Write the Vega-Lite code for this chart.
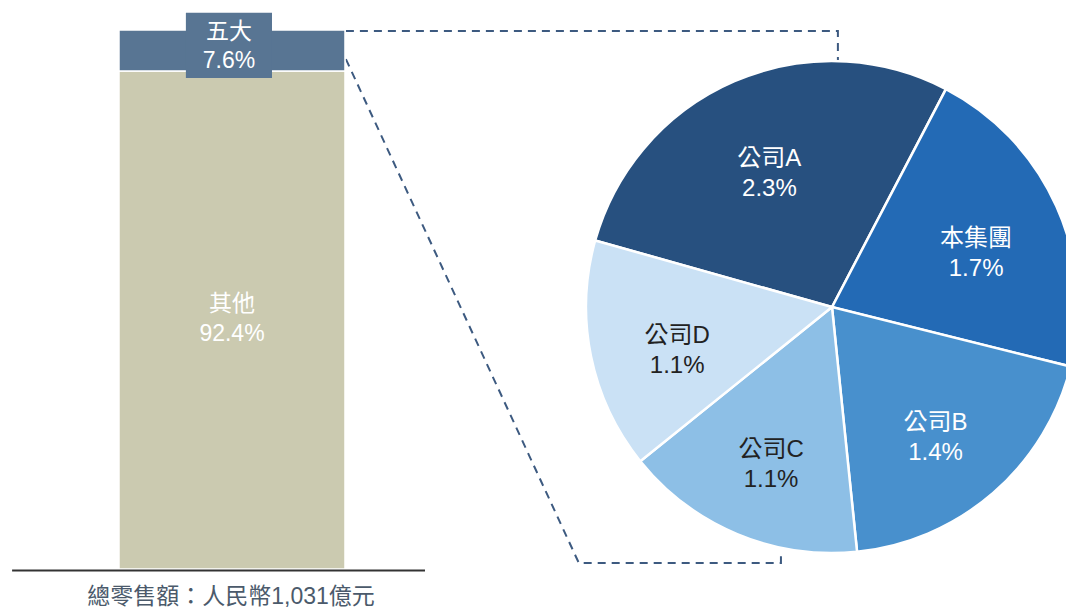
{
  "$schema": "https://vega.github.io/schema/vega-lite/v6.json",
  "width": 1066,
  "height": 611,
  "padding": 0,
  "autosize": {"type": "none"},
  "background": "white",
  "view": {"stroke": null},
  "config": {
    "font": "Liberation Sans, Noto Sans CJK TC, sans-serif",
    "text": {"font": "Liberation Sans, Noto Sans CJK TC, sans-serif"}
  },
  "datasets": {
    "bar": [
      {"name": "其他", "share": 0.924},
      {"name": "五大", "share": 0.076}
    ],
    "pie": [
      {"name": "公司A", "share": 0.023, "arc_deg": 101.9},
      {"name": "本集團", "share": 0.017, "arc_deg": 76.4},
      {"name": "公司B", "share": 0.014, "arc_deg": 70.15},
      {"name": "公司C", "share": 0.011, "arc_deg": 57.05},
      {"name": "公司D", "share": 0.011, "arc_deg": 54.5}
    ],
    "connectors": [
      {"seg": "top", "i": 1, "u": 1.004, "v": 99.8},
      {"seg": "top", "i": 2, "u": 3.181, "v": 99.8},
      {"seg": "top", "i": 3, "u": 3.181, "v": 92.2},
      {"seg": "bottom", "i": 1, "u": 1.004, "v": 94.6},
      {"seg": "bottom", "i": 2, "u": 2.035, "v": 1.1},
      {"seg": "bottom", "i": 3, "u": 2.929, "v": 1.1},
      {"seg": "bottom", "i": 4, "u": 2.929, "v": 2.6}
    ],
    "caption": [
      {"text": "總零售額：人民幣1,031億元"}
    ]
  },
  "layer": [
    {
      "data": {"name": "connectors"},
      "mark": {"type": "line", "color": "#3D5A80", "strokeWidth": 2, "strokeDash": [8, 6]},
      "encoding": {
        "x": {"field": "u", "type": "quantitative", "scale": {"domain": [-0.5265, 4.1903], "nice": false, "zero": false}, "axis": null},
        "y": {"field": "v", "type": "quantitative", "scale": {"domain": [-7.79, 105.57], "nice": false, "zero": false}, "axis": null},
        "detail": {"field": "seg"},
        "order": {"field": "i"}
      }
    },
    {
      "data": {"name": "bar"},
      "transform": [
        {"window": [{"op": "row_number", "as": "k"}]},
        {"stack": "share", "groupby": [], "sort": [{"field": "k"}], "as": ["y0", "y1"]},
        {"calculate": "datum.y0 * 100", "as": "p0"},
        {"calculate": "datum.y1 * 100", "as": "p1"}
      ],
      "mark": {"type": "rect", "stroke": "white", "strokeWidth": 1.5},
      "encoding": {
        "x": {"datum": 0, "type": "quantitative"},
        "x2": {"datum": 1},
        "y": {"field": "p0", "type": "quantitative"},
        "y2": {"field": "p1"},
        "fill": {"field": "name", "type": "nominal", "legend": null,
          "scale": {"domain": ["其他", "五大", "公司A", "本集團", "公司B", "公司C", "公司D"],
                    "range": ["#CBCAB0", "#587593", "#27507F", "#236AB5", "#4890CD", "#8DBFE6", "#CAE1F5"]}}
      }
    },
    {
      "data": {"name": "bar"},
      "transform": [{"filter": "datum.name === '五大'"}],
      "mark": {"type": "rect", "fill": "#587593"},
      "encoding": {
        "x": {"datum": 0.296, "type": "quantitative"},
        "x2": {"datum": 0.677},
        "y": {"datum": 103.2, "type": "quantitative"},
        "y2": {"datum": 91.1}
      }
    },
    {
      "data": {"name": "bar"},
      "transform": [{"filter": "datum.name === '其他'"}],
      "encoding": {
        "x": {"datum": 0.5, "type": "quantitative"},
        "y": {"datum": 46.57, "type": "quantitative"}
      },
      "layer": [
        {"mark": {"type": "text", "fontSize": 23, "color": "white", "dy": -14, "baseline": "middle"},
         "encoding": {"text": {"field": "name"}}},
        {"mark": {"type": "text", "fontSize": 23, "color": "white", "dy": 16, "baseline": "middle"},
         "encoding": {"text": {"field": "share", "type": "quantitative", "format": ".1%"}}}
      ]
    },
    {
      "data": {"name": "bar"},
      "transform": [{"filter": "datum.name === '五大'"}],
      "encoding": {
        "x": {"datum": 0.4865, "type": "quantitative"},
        "y": {"datum": 97.1, "type": "quantitative"}
      },
      "layer": [
        {"mark": {"type": "text", "fontSize": 23, "color": "white", "dy": -14, "baseline": "middle"},
         "encoding": {"text": {"field": "name"}}},
        {"mark": {"type": "text", "fontSize": 23, "color": "white", "dy": 15, "baseline": "middle"},
         "encoding": {"text": {"field": "share", "type": "quantitative", "format": ".1%"}}}
      ]
    },
    {
      "data": {"name": "pie"},
      "transform": [{"window": [{"op": "row_number", "as": "k"}]}],
      "encoding": {
        "x": {"datum": 3.1549, "type": "quantitative"},
        "y": {"datum": 48.6, "type": "quantitative"},
        "theta": {"field": "arc_deg", "type": "quantitative", "stack": true,
                  "scale": {"range": [-1.2968, 4.9864]}},
        "order": {"field": "k", "type": "quantitative"}
      },
      "layer": [
        {
          "mark": {"type": "arc", "outerRadius": 246, "stroke": "white", "strokeWidth": 2.5},
          "encoding": {"fill": {"field": "name", "type": "nominal", "legend": null}}
        },
        {
          "mark": {"type": "text", "radius": 158, "fontSize": 24, "dy": -3, "baseline": "middle"},
          "encoding": {
            "text": {"field": "name"},
            "color": {"condition": {"test": "datum.name === '公司C' || datum.name === '公司D'", "value": "#222222"}, "value": "white"}
          }
        },
        {
          "mark": {"type": "text", "radius": 158, "fontSize": 24, "dy": 27, "baseline": "middle"},
          "encoding": {
            "text": {"field": "share", "type": "quantitative", "format": ".1%"},
            "color": {"condition": {"test": "datum.name === '公司C' || datum.name === '公司D'", "value": "#222222"}, "value": "white"}
          }
        }
      ]
    },
    {
      "data": {"name": "caption"},
      "mark": {"type": "rule", "color": "#333333", "strokeWidth": 2},
      "encoding": {
        "x": {"datum": -0.473, "type": "quantitative"},
        "x2": {"datum": 1.354},
        "y": {"datum": -0.28, "type": "quantitative"}
      }
    },
    {
      "data": {"name": "caption"},
      "mark": {"type": "text", "fontSize": 23, "color": "#4B5A6B", "baseline": "middle"},
      "encoding": {
        "x": {"datum": 0.496, "type": "quantitative"},
        "y": {"datum": -5.25, "type": "quantitative"},
        "text": {"field": "text"}
      }
    }
  ]
}
